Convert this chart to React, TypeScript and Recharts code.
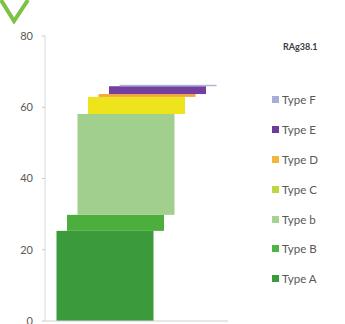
import React from "react";
import { BarChart, Bar, XAxis, YAxis, Legend } from "recharts";

const categories = ["RAg38.1"];
const seriesNames = ["Type A", "Type B", "Type b", "Type C", "Type D", "Type E", "Type F"];
const seriesValues = [25.3, 4.5, 28.3, 4.8, 0.8, 2.2, 0.4];
const yTicks = [0, 20, 40, 60, 80];

// bar fills as they look in the plot, legend swatches as they look in the key
const barColors = ["#3b9b3b", "#4cae3d", "#a0cf8e", "#eee41c", "#f3a83a", "#7440a0", "#aab5da"];
const legendColors = ["#3a9a3c", "#50b346", "#a6d394", "#bfd541", "#f5b43a", "#6b3d9a", "#a4aed6"];

const data = categories.map((name) => {
  const row: Record<string, string | number> = { name };
  seriesNames.forEach((s, i) => {
    row[s] = seriesValues[i];
  });
  return row;
});

// each layer is pushed a bit to the right, like the original's pseudo-3D look
const STEP = 10.5;
const makeShape = (i: number) => (props: any) => {
  const { x, y, width, height, fill } = props;
  if (!height || height <= 0) return <g />;
  return <rect x={x + (i - 3) * STEP} y={y} width={width} height={height} fill={fill} />;
};

const LegendContent = () => (
  <div style={{ fontFamily: "Lato, 'Open Sans', sans-serif", fontSize: 11.5, color: "#595959" }}>
    {seriesNames
      .map((s, i) => ({ s, c: legendColors[i] }))
      .reverse()
      .map(({ s, c }) => (
        <div key={s} style={{ height: 29.8, display: "flex", alignItems: "center" }}>
          <span style={{ width: 7, height: 7, background: c, marginRight: 3, display: "inline-block" }} />
          {s}
        </div>
      ))}
  </div>
);

export default function App() {
  return (
    <div style={{ position: "absolute", left: 0, top: 0, width: 345, height: 324, background: "#fff", overflow: "hidden" }}>
      <svg width={30} height={24} style={{ position: "absolute", left: 0, top: 0 }}>
        <polyline points="1,0 14,21 28,0" fill="none" stroke="#7cc243" strokeWidth={4} />
      </svg>
      <div
        style={{
          position: "absolute",
          left: 283,
          top: 41,
          fontFamily: "Lato, 'Open Sans', sans-serif",
          fontSize: 9,
          fontWeight: 700,
          color: "#404040",
        }}
      >
        {categories[0]}
      </div>
      <BarChart width={345} height={330} data={data} margin={{ top: 36, right: 117, bottom: 8, left: 10 }}>
        <XAxis dataKey="name" tick={false} tickLine={false} height={1} axisLine={{ stroke: "#d0d0d0" }} />
        <YAxis
          domain={[0, 80]}
          ticks={yTicks}
          interval={0}
          width={35}
          tickSize={3}
          tickMargin={9}
          axisLine={{ stroke: "#d9d9d9" }}
          tickLine={{ stroke: "#c8c8c8" }}
          tick={{ fill: "#595959", fontSize: 11, fontFamily: "Lato, 'Open Sans', sans-serif" }}
        />
        <Legend
          layout="vertical"
          align="center"
          verticalAlign="middle"
          content={<LegendContent />}
          wrapperStyle={{ left: 272, top: 85, width: 73 }}
        />
        {seriesNames.map((s, i) => (
          <Bar
            key={s}
            dataKey={s}
            stackId="a"
            fill={barColors[i]}
            barSize={97}
            shape={makeShape(i)}
            isAnimationActive={false}
          />
        ))}
      </BarChart>
    </div>
  );
}
